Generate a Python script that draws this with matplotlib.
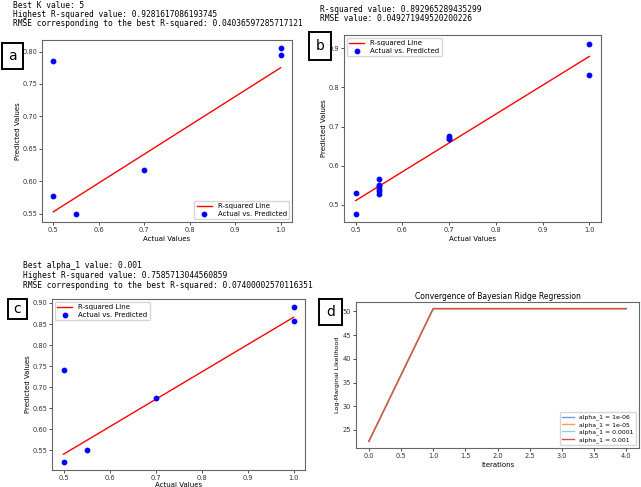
import matplotlib
matplotlib.use("Agg")
import matplotlib.pyplot as plt
from matplotlib.patches import Rectangle

W, H = 641, 487

# panel a: KNN
a_actual = [0.5, 0.5, 0.55, 0.7, 1.0, 1.0]
a_pred = [0.786, 0.577, 0.550, 0.617, 0.805, 0.795]
a_line_x = [0.5, 1.0]
a_line_y = [0.553, 0.775]

# panel b
b_actual = [0.5, 0.5, 0.55, 0.55, 0.55, 0.55, 0.55, 0.55, 0.7, 0.7, 0.7, 1.0, 1.0]
b_pred = [0.530, 0.478, 0.566, 0.552, 0.547, 0.540, 0.535, 0.527, 0.675, 0.671, 0.668, 0.912, 0.831]
b_line_x = [0.5, 1.0]
b_line_y = [0.511, 0.879]

# panel c: Bayesian ridge
c_actual = [0.5, 0.5, 0.55, 0.7, 1.0, 1.0]
c_pred = [0.742, 0.522, 0.551, 0.675, 0.891, 0.858]
c_line_x = [0.5, 1.0]
c_line_y = [0.541, 0.866]

# panel d: convergence
iterations = [0, 1, 2, 3, 4]
alpha_labels = ["alpha_1 = 1e-06", "alpha_1 = 1e-05", "alpha_1 = 0.0001", "alpha_1 = 0.001"]
loglik = [
    [22.6, 50.6, 50.6, 50.6, 50.6],
    [22.6, 50.6, 50.6, 50.6, 50.6],
    [22.6, 50.6, 50.6, 50.6, 50.6],
    [22.6, 50.6, 50.6, 50.6, 50.6],
]
alpha_colors = ["#6f9fd8", "#f5a04a", "#8fd0dc", "#d9533a"]

text_a = ["Best K value: 5",
          "Highest R-squared value: 0.9281617086193745",
          "RMSE corresponding to the best R-squared: 0.04036597285717121"]
text_b = ["R-squared value: 0.892965289435299",
          "RMSE value: 0.049271949520200226"]
text_c = ["Best alpha_1 value: 0.001",
          "Highest R-squared value: 0.7585713044560859",
          "RMSE corresponding to the best R-squared: 0.07400002570116351"]

fig = plt.figure(figsize=(W / 100, H / 100), dpi=100)


def rect(x0, y0, x1, y1):
    return [x0 / W, 1 - y1 / H, (x1 - x0) / W, (y1 - y0) / H]


def style(ax):
    for s in ax.spines.values():
        s.set_color("#666666")
        s.set_linewidth(0.8)
    ax.tick_params(labelsize=4.8, length=2, width=0.6, pad=1.5, colors="#333333")


def scatter_panel(pos, actual, pred, lx, ly, loc, xlabpad=2, ylabpad=1):
    ax = fig.add_axes(rect(*pos))
    ax.plot(lx, ly, color="red", lw=1.0, label="R-squared Line")
    ax.scatter(actual, pred, color="blue", s=10, label="Actual vs. Predicted", zorder=3)
    ax.set_xlabel("Actual Values", fontsize=5, labelpad=xlabpad)
    ax.set_ylabel("Predicted Values", fontsize=5, labelpad=ylabpad)
    ax.legend(loc=loc, fontsize=5, borderpad=0.35, labelspacing=0.25, handlelength=2.2,
              borderaxespad=0.4)
    style(ax)
    return ax


ax_a = scatter_panel((42, 40, 292, 222), a_actual, a_pred, a_line_x, a_line_y, "lower right")
ax_a.set_yticks([0.55, 0.60, 0.65, 0.70, 0.75, 0.80])
ax_b = scatter_panel((344, 35, 601, 222), b_actual, b_pred, b_line_x, b_line_y, "upper left")
ax_c = scatter_panel((52, 299, 305, 470), c_actual, c_pred, c_line_x, c_line_y, "upper left",
                     xlabpad=0.5)

ax_d = fig.add_axes(rect(356, 302, 639, 448))
for vals, lab, col in zip(loglik, alpha_labels, alpha_colors):
    ax_d.plot(iterations, vals, color=col, lw=1.0, label=lab)
ax_d.set_title("Convergence of Bayesian Ridge Regression", fontsize=5.5, pad=2)
ax_d.set_xlabel("Iterations", fontsize=5, labelpad=2)
ax_d.set_ylabel("Log-Marginal Likelihood", fontsize=4.6, labelpad=2)
ax_d.legend(loc="lower right", fontsize=4.4, borderpad=0.35, labelspacing=0.25)
style(ax_d)

# printed output above panels
mono = dict(family="DejaVu Sans Mono", fontsize=5.7, va="center", ha="left")
for i, t in enumerate(text_a):
    fig.text(13 / W, 1 - (5 + i * 9.5) / H, t, **mono)
for i, t in enumerate(text_b):
    fig.text(320 / W, 1 - (9 + i * 9.5) / H, t, **mono)
for i, t in enumerate(text_c):
    fig.text(23 / W, 1 - (266 + i * 9.5) / H, t, **mono)

# panel letter boxes
for letter, (x0, y0, x1, y1) in zip("abcd", [(2, 43, 23, 69), (309, 32, 331, 60),
                                            (8, 299, 27, 319), (319, 299, 342, 325)]):
    r = rect(x0, y0, x1, y1)
    fig.patches.append(Rectangle((r[0], r[1]), r[2], r[3], transform=fig.transFigure,
                                 facecolor="white", edgecolor="black", lw=1.4))
    fig.text(r[0] + r[2] / 2, r[1] + r[3] / 2, letter, fontsize=10, ha="center", va="center")

fig.savefig("out.png", dpi=100)
